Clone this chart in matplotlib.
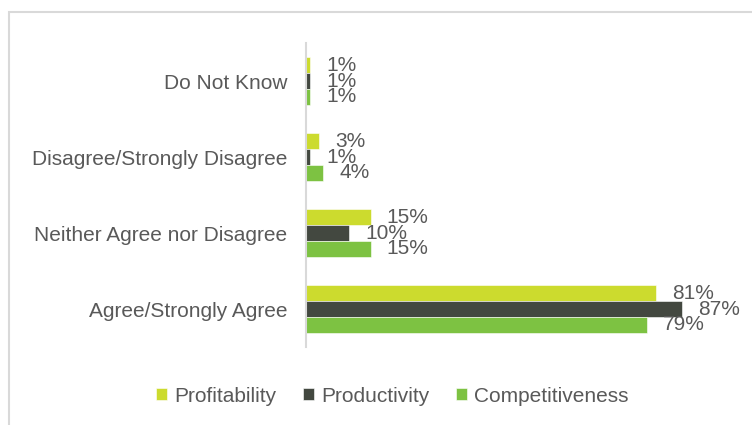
import numpy as np
import matplotlib.pyplot as plt
from matplotlib.patches import Rectangle

plt.rcParams['font.family'] = ['Liberation Sans', 'DejaVu Sans']

# Data (bottom to top)
categories = ['Agree/Strongly Agree', 'Neither Agree nor Disagree',
              'Disagree/Strongly Disagree', 'Do Not Know']
profitability = [81, 15, 3, 1]
productivity = [87, 10, 1, 1]
competitiveness = [79, 15, 4, 1]

series = [('Profitability', profitability, '#CCDB2E'),
          ('Productivity', productivity, '#434840'),
          ('Competitiveness', competitiveness, '#7DC242')]

text_col = '#595959'
fs = 15.0

fig = plt.figure(figsize=(7.52, 4.25), dpi=100)
ax = fig.add_axes([0.4069, 0.1835, 0.5745, 0.7153])

y = np.arange(len(categories))
h = 0.21
offsets = [h, 0, -h]

handles = []
for (name, vals, col), off in zip(series, offsets):
    bars = ax.barh(y + off, vals, height=h, color=col, edgecolor='white',
                   linewidth=0.4, label=name)
    handles.append(bars)
    for yy, v in zip(y + off, vals):
        ax.annotate(f'{v}%', xy=(v, yy), xytext=(11.5, 0),
                    textcoords='offset points', ha='left', va='center',
                    fontsize=fs, color=text_col)

ax.set_xlim(0, 100)
ax.set_ylim(-0.5, 3.5)
ax.set_yticks(y)
ax.set_yticklabels(categories, fontsize=fs, color=text_col)
ax.set_xticks([])
ax.tick_params(axis='y', length=0, pad=13.5)
for s in ['top', 'right', 'bottom']:
    ax.spines[s].set_visible(False)
ax.spines['left'].set_color('#D9D9D9')
ax.spines['left'].set_linewidth(1.5)

leg = fig.legend(handles=handles, loc='center', bbox_to_anchor=(0.522, 0.068),
                 ncol=3, frameon=False, fontsize=fs, handlelength=0.5,
                 handleheight=0.5, handletextpad=0.35, columnspacing=1.3)
for t in leg.get_texts():
    t.set_color(text_col)

fig.patches.append(Rectangle((0.012, -0.01), 1.0, 0.982, transform=fig.transFigure,
                             fill=False, edgecolor='#D9D9D9', linewidth=1.5))

fig.savefig('out.png', dpi=100)
